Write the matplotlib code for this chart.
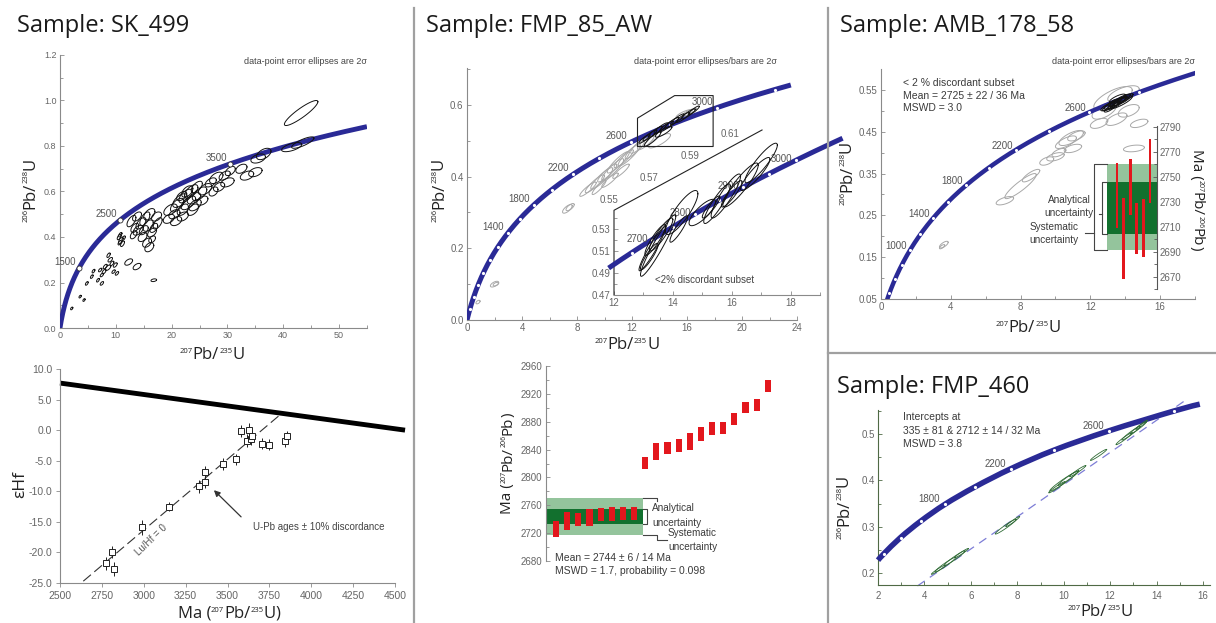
import numpy as np
import matplotlib
matplotlib.use('Agg')
import matplotlib.pyplot as plt
from matplotlib.ticker import MultipleLocator, FormatStrFormatter
from matplotlib.lines import Line2D
from matplotlib.path import Path
from matplotlib.patches import PathPatch

W, H = 1216, 623
plt.rcParams['font.family'] = ['Liberation Sans', 'DejaVu Sans']

# decay constants (per Ma)
L235 = 9.8485e-4
L238 = 1.55125e-4

# ------------------------------------------------------------------ data
TITLES = ['Sample: SK_499', 'Sample: FMP_85_AW', 'Sample: AMB_178_58', 'Sample: FMP_460']

# SK_499 concordia
SK_AGE_MAX = 4087
SK_LABEL_AGES = [1500, 2500, 3500]
# ellipses: (x, y, half-width x, half-height y, correlation)
SK_ELL = [
    (2.1, 0.086, 0.2, 0.006, 0.5), (3.6, 0.138, 0.2, 0.006, 0.5), (4.3, 0.123, 0.2, 0.006, 0.5),
    (4.8, 0.196, 0.25, 0.008, 0.6), (5.7, 0.226, 0.25, 0.008, 0.6), (6.0, 0.25, 0.25, 0.008, 0.6),
    (6.8, 0.21, 0.25, 0.008, 0.6), (7.2, 0.255, 0.3, 0.008, 0.6), (7.5, 0.233, 0.3, 0.008, 0.6),
    (7.5, 0.196, 0.3, 0.008, 0.6), (7.9, 0.248, 0.35, 0.01, 0.6), (8.1, 0.27, 0.35, 0.01, 0.6),
    (8.7, 0.32, 0.3, 0.01, 0.6), (9.0, 0.30, 0.4, 0.01, 0.6), (9.3, 0.284, 0.35, 0.01, 0.6),
    (9.6, 0.248, 0.3, 0.008, 0.6), (9.9, 0.277, 0.35, 0.01, 0.6), (10.2, 0.24, 0.3, 0.008, 0.6),
    (8.6, 0.265, 0.5, 0.012, 0.6),
    (10.6, 0.40, 0.35, 0.012, 0.6), (10.9, 0.385, 0.4, 0.015, 0.6), (11.2, 0.37, 0.35, 0.012, 0.6),
    (10.8, 0.41, 0.3, 0.01, 0.6), (11.4, 0.395, 0.3, 0.01, 0.6), (10.7, 0.375, 0.3, 0.01, 0.6),
    (12.3, 0.29, 0.7, 0.014, 0.5), (13.8, 0.27, 0.7, 0.014, 0.5), (16.8, 0.21, 0.5, 0.006, 0.3),
    (12.8, 0.47, 0.8, 0.025, 0.6), (13.8, 0.49, 0.8, 0.02, 0.5), (14.5, 0.46, 0.9, 0.025, 0.6),
    (15.2, 0.48, 0.9, 0.03, 0.6), (16.0, 0.50, 1.0, 0.025, 0.5), (17.3, 0.49, 0.9, 0.02, 0.4),
    (13.4, 0.44, 0.7, 0.02, 0.5), (15.0, 0.43, 0.8, 0.02, 0.5), (16.5, 0.42, 0.8, 0.02, 0.5),
    (14.8, 0.40, 0.8, 0.02, 0.4), (15.6, 0.375, 0.8, 0.02, 0.4), (16.0, 0.355, 0.8, 0.02, 0.4),
    (16.8, 0.44, 0.7, 0.02, 0.5), (17.5, 0.46, 0.8, 0.025, 0.6), (13.2, 0.41, 0.6, 0.018, 0.5),
    (14.0, 0.43, 0.9, 0.022, 0.5), (15.8, 0.45, 0.9, 0.025, 0.5), (16.5, 0.39, 0.6, 0.015, 0.4),
    (19.5, 0.48, 1.0, 0.02, 0.4), (19.8, 0.52, 1.2, 0.025, 0.5), (20.5, 0.50, 1.0, 0.02, 0.4),
    (21.0, 0.54, 1.2, 0.03, 0.6), (21.5, 0.56, 1.3, 0.03, 0.6), (22.0, 0.52, 1.0, 0.025, 0.5),
    (22.5, 0.58, 1.2, 0.03, 0.6), (23.0, 0.55, 1.3, 0.03, 0.6), (23.5, 0.60, 1.2, 0.03, 0.6),
    (24.0, 0.57, 1.2, 0.025, 0.5), (24.5, 0.62, 1.0, 0.025, 0.6), (25.0, 0.59, 1.3, 0.03, 0.6),
    (25.5, 0.56, 1.0, 0.02, 0.4), (26.0, 0.61, 1.2, 0.025, 0.5), (22.0, 0.49, 1.0, 0.02, 0.4),
    (20.8, 0.47, 1.0, 0.02, 0.4), (23.8, 0.52, 1.0, 0.025, 0.5), (22.8, 0.60, 1.0, 0.025, 0.5),
    (24.2, 0.54, 1.1, 0.025, 0.5), (21.8, 0.58, 0.9, 0.02, 0.5),
    (27.0, 0.64, 1.0, 0.02, 0.5), (28.0, 0.66, 1.2, 0.025, 0.5), (28.5, 0.62, 1.0, 0.02, 0.4),
    (29.5, 0.67, 1.0, 0.02, 0.5), (30.0, 0.64, 1.2, 0.02, 0.4), (30.5, 0.69, 0.9, 0.02, 0.5),
    (27.5, 0.60, 0.8, 0.02, 0.4),
    (33.5, 0.67, 1.2, 0.02, 0.4), (35.0, 0.685, 1.2, 0.02, 0.4), (32.5, 0.70, 1.0, 0.02, 0.4),
    (35.5, 0.745, 1.3, 0.02, 0.4), (36.5, 0.765, 1.3, 0.025, 0.5),
    (41.5, 0.795, 1.8, 0.02, 0.6), (43.5, 0.815, 2.0, 0.025, 0.8),
    (43.2, 0.945, 3.0, 0.055, 0.9),
]

# SK_499 Hf isotopes
HF_AGE = [2775, 2812, 2824, 2988, 3153, 3330, 3366, 3366, 3471, 3551,
          3579, 3614, 3630, 3638, 3648, 3704, 3750, 3843, 3857]
HF_EPS = [-21.8, -19.9, -22.7, -15.9, -12.5, -9.2, -8.5, -6.9, -5.5, -4.8,
          -0.1, -1.7, 0.1, -1.4, -1.0, -2.2, -2.4, -1.8, -1.0]
HF_ERR = [1.0, 1.0, 1.2, 1.2, 0.8, 1.0, 1.0, 1.0, 1.0, 0.9,
          1.0, 1.0, 1.1, 1.0, 1.0, 0.9, 0.9, 0.9, 0.9]
HF_DM_AGE = [2500, 4560]
HF_DM_EPS = [7.7, 0.0]
HF_LUHF_AGE = [2639, 3809]
HF_LUHF_EPS = [-24.7, 2.4]

# FMP_85_AW concordia
FMP85_AGE_MAX = 3250
FMP85_MARK_AGES = list(range(200, 3201, 200))
FMP85_LABEL_AGES = [1400, 1800, 2200, 2600, 3000]
FMP85_GRAY = [
    (0.8, 0.05, 0.15, 0.005, 0.5), (2.0, 0.10, 0.3, 0.008, 0.6), (2.1, 0.10, 0.2, 0.005, 0.5),
    (7.3, 0.31, 0.35, 0.012, 0.7), (7.5, 0.315, 0.3, 0.01, 0.7),
    (8.8, 0.365, 0.6, 0.02, 0.9), (9.3, 0.38, 0.7, 0.025, 0.9), (9.8, 0.395, 0.8, 0.03, 0.9),
    (10.2, 0.41, 0.7, 0.025, 0.9), (10.6, 0.42, 0.8, 0.03, 0.9), (11.0, 0.44, 0.8, 0.03, 0.9),
    (11.4, 0.45, 0.7, 0.025, 0.9), (11.8, 0.46, 0.8, 0.03, 0.9), (12.2, 0.475, 0.7, 0.025, 0.9),
    (12.6, 0.49, 0.7, 0.025, 0.9), (13.0, 0.495, 0.6, 0.02, 0.85), (9.6, 0.37, 0.5, 0.02, 0.9),
    (10.4, 0.39, 0.6, 0.02, 0.9), (11.2, 0.415, 0.6, 0.02, 0.9),
    (15.8, 0.575, 0.6, 0.012, 0.8), (16.2, 0.58, 0.5, 0.01, 0.8), (14.0, 0.50, 0.8, 0.02, 0.8),
]
FMP85_BLACK = [
    (12.9, 0.505, 0.4, 0.012, 0.9), (13.3, 0.515, 0.5, 0.015, 0.9), (13.7, 0.525, 0.5, 0.015, 0.9),
    (14.1, 0.535, 0.5, 0.015, 0.9), (14.5, 0.54, 0.5, 0.015, 0.9), (14.9, 0.55, 0.5, 0.015, 0.9),
    (15.3, 0.56, 0.5, 0.015, 0.9), (15.7, 0.565, 0.5, 0.014, 0.9), (16.1, 0.575, 0.5, 0.014, 0.9),
    (16.5, 0.585, 0.4, 0.012, 0.9), (13.5, 0.505, 0.6, 0.02, 0.9), (14.3, 0.525, 0.6, 0.015, 0.85),
]
FMP85_BOX_X = [12.4, 17.9, 17.9, 15.1, 12.4, 12.4]
FMP85_BOX_Y = [0.484, 0.484, 0.626, 0.626, 0.563, 0.484]
FMP85_INSET_AGE_RANGE = (2590, 3080)
FMP85_INSET_MARKS = list(range(2650, 3051, 50))
FMP85_INSET_LABELS = [2700, 2800, 2900, 3000]
FMP85_INSET_ELL = [
    (13.3, 0.512, 0.45, 0.02, 0.95), (13.4, 0.520, 0.35, 0.014, 0.9), (13.6, 0.525, 0.4, 0.015, 0.9),
    (13.5, 0.515, 0.6, 0.028, 0.95), (14.3, 0.545, 0.55, 0.02, 0.85), (14.2, 0.53, 0.3, 0.012, 0.9),
    (15.0, 0.545, 0.45, 0.012, 0.8), (15.5, 0.553, 0.45, 0.018, 0.9), (15.8, 0.56, 0.5, 0.02, 0.9),
    (16.0, 0.562, 0.35, 0.012, 0.9), (16.3, 0.57, 0.6, 0.02, 0.9), (16.8, 0.58, 0.5, 0.015, 0.9),
    (17.0, 0.59, 0.55, 0.018, 0.9), (15.3, 0.55, 0.3, 0.01, 0.9), (13.2, 0.505, 0.3, 0.012, 0.9),
]
FMP85_INSET_YTICKS = [0.47, 0.49, 0.51, 0.53]
FMP85_SLANT_TICKS = [0.55, 0.57, 0.59, 0.61]

# FMP_85_AW weighted mean 207Pb/206Pb ages
WM85_LO = [2714, 2725, 2730, 2730, 2738, 2738, 2739, 2739, 2812, 2825,
           2833, 2837, 2840, 2853, 2861, 2862, 2875, 2892, 2895, 2922]
WM85_HI = [2738, 2751, 2749, 2755, 2756, 2758, 2758, 2758, 2829, 2850,
           2851, 2855, 2864, 2872, 2880, 2880, 2893, 2909, 2913, 2940]
WM85_SYS = (2717, 2771)
WM85_ANA = (2733, 2755)

# AMB_178_58
AMB_AGE_MAX = 3000
AMB_MARK_AGES = list(range(200, 3001, 200))
AMB_LABEL_AGES = [1000, 1400, 1800, 2200, 2600]
AMB_BLACK = [
    (13.4, 0.518, 0.6, 0.014, 0.85), (13.6, 0.522, 0.5, 0.012, 0.85), (13.2, 0.512, 0.5, 0.012, 0.85),
    (13.8, 0.528, 0.5, 0.012, 0.85), (13.5, 0.515, 0.35, 0.009, 0.85), (13.0, 0.51, 0.4, 0.01, 0.8),
    (14.0, 0.53, 0.45, 0.011, 0.85), (13.7, 0.52, 0.7, 0.016, 0.85), (13.3, 0.52, 0.3, 0.008, 0.8),
    (13.9, 0.525, 0.3, 0.008, 0.8), (13.55, 0.53, 0.45, 0.01, 0.8), (13.1, 0.505, 0.3, 0.008, 0.8),
]
AMB_GRAY = [
    (13.3, 0.53, 1.1, 0.028, 0.7), (13.9, 0.54, 0.9, 0.02, 0.6), (12.8, 0.50, 0.7, 0.02, 0.6),
    (13.5, 0.48, 0.6, 0.015, 0.6), (14.2, 0.50, 0.6, 0.015, 0.5), (14.8, 0.47, 0.5, 0.01, 0.5),
    (14.5, 0.41, 0.6, 0.008, 0.3), (10.6, 0.425, 0.6, 0.015, 0.7), (10.9, 0.435, 0.7, 0.018, 0.7),
    (10.2, 0.40, 0.4, 0.01, 0.6), (11.2, 0.44, 0.5, 0.012, 0.6), (10.0, 0.39, 0.5, 0.01, 0.5),
    (11.0, 0.41, 0.5, 0.01, 0.5), (8.0, 0.32, 0.9, 0.03, 0.9), (8.6, 0.345, 0.5, 0.015, 0.8),
    (7.1, 0.285, 0.5, 0.01, 0.6), (3.6, 0.18, 0.25, 0.008, 0.7), (3.5, 0.175, 0.15, 0.005, 0.7),
    (12.5, 0.47, 0.5, 0.012, 0.5), (9.5, 0.38, 0.4, 0.01, 0.5),
]
AMB_LO = [2709, 2668, 2719, 2688, 2686, 2729]
AMB_HI = [2761, 2733, 2764, 2729, 2732, 2780]
AMB_SYS = (2691, 2760)
AMB_ANA = (2704, 2746)

# FMP_460 (curve points)
F460_CX = [2.0, 2.26, 2.97, 3.84, 4.89, 6.18, 7.73, 9.59, 11.94, 14.76, 15.86]
F460_CY = [0.2276, 0.2419, 0.2765, 0.3119, 0.3485, 0.3860, 0.4253, 0.4654, 0.5069, 0.5500, 0.5646]
F460_AGES = [None, 1200, 1400, 1600, 1800, 2000, 2200, 2400, 2600, 2800, None]
F460_LABEL_AGES = [1800, 2200, 2600]
F460_DISC_X = [3.7, 15.3]
F460_DISC_Y = [0.172, 0.575]
F460_ELL = [
    (4.6, 0.207, 0.3, 0.010, 0.97), (4.9, 0.218, 0.45, 0.016, 0.97), (5.3, 0.232, 0.45, 0.016, 0.97),
    (5.6, 0.243, 0.3, 0.01, 0.97), (7.5, 0.300, 0.45, 0.016, 0.97), (7.8, 0.311, 0.3, 0.011, 0.97),
    (9.7, 0.385, 0.35, 0.012, 0.97), (10.0, 0.398, 0.6, 0.021, 0.97), (10.2, 0.405, 0.45, 0.016, 0.97),
    (10.6, 0.420, 0.35, 0.012, 0.97), (11.5, 0.455, 0.35, 0.012, 0.97), (12.6, 0.49, 0.35, 0.013, 0.97),
    (12.9, 0.502, 0.4, 0.015, 0.97), (13.2, 0.513, 0.35, 0.013, 0.97), (13.35, 0.52, 0.25, 0.01, 0.97),
]

# ------------------------------------------------------------------ helpers
BLUE = '#2a2a96'
RED = '#e3171d'
LGREEN = '#94c49c'
DGREEN = '#12702e'
TXT = '#3a3a3a'
TICKC = '#666666'

fig = plt.figure(figsize=(W / 100, H / 100), dpi=100)
RENDERER = fig.canvas.get_renderer()


def axpx(l, t, r, b):
    return fig.add_axes([l / W, 1 - b / H, (r - l) / W, (b - t) / H])


def ftext(x, y, s, **kw):
    fig.text(x / W, 1 - y / H, s, **kw)


def fline(xs, ys, **kw):
    fig.add_artist(Line2D([x / W for x in xs], [1 - y / H for y in ys], **kw))


def rich(cx, cy, parts, rot=0, color='#222', family='Open Sans'):
    """Label made of pieces (text, size, rise_px), centred at pixel (cx, cy)."""
    ws = []
    for s, fs, _ in parts:
        t = fig.text(0, 0, s, fontsize=fs, fontfamily=family)
        ws.append(t.get_window_extent(RENDERER).width)
        t.remove()
    total = sum(ws)
    main = max(p[1] for p in parts)
    off = 0.36 * main * 100 / 72
    pos = -total / 2
    for (s, fs, rise), w in zip(parts, ws):
        if rot == 0:
            x, y = cx + pos, cy + off - rise
        elif rot == 90:
            x, y = cx + off - rise, cy - pos
        else:
            x, y = cx - off + rise, cy + pos
        fig.text(x / W, 1 - y / H, s, fontsize=fs, fontfamily=family, color=color,
                 rotation=rot, rotation_mode='anchor', ha='left', va='baseline')
        pos += w


def iso(top, bot, size=12, sup=5.5, pre='', post=''):
    rise = 0.714 * (size - sup) * 100 / 72
    parts = []
    if pre:
        parts.append((pre, size, 0))
    parts += [(top, sup, rise), ('Pb/', size, 0), (bot, sup, rise), ('U' if bot in ('235', '238') else 'Pb', size, 0)]
    if post:
        parts.append((post, size, 0))
    return parts


def style(ax, spine='#8a8a8a', size=7):
    for s in ('top', 'right'):
        ax.spines[s].set_visible(False)
    for s in ('left', 'bottom'):
        ax.spines[s].set_color(spine)
        ax.spines[s].set_linewidth(0.8)
    ax.tick_params(which='both', direction='in', color=spine, labelcolor=TICKC,
                   labelsize=size, width=0.6, pad=2.5)
    ax.tick_params(which='major', length=3)
    ax.tick_params(which='minor', length=2)
    ax.patch.set_visible(False)


def conc(t):
    t = np.asarray(t, dtype=float)
    return np.exp(L235 * t) - 1, np.exp(L238 * t) - 1


def ellipse(ax, e, **kw):
    cx, cy, sx, sy, r = e
    t = np.linspace(0, 2 * np.pi, 80)
    ax.plot(cx + sx * np.cos(t), cy + sy * (r * np.cos(t) + np.sqrt(1 - r * r) * np.sin(t)), **kw)


def age_label(ax, a, xy, dx=-3, dy=1, size=7):
    ax.annotate(str(a), xy=xy, xytext=(dx, dy), textcoords='offset pixels',
                ha='right', va='bottom', fontsize=size, color='#555')


def smooth_path(xs, ys):
    P = np.column_stack([xs, ys]).astype(float)
    n = len(P)
    verts, codes = [P[0]], [Path.MOVETO]
    for i in range(n - 1):
        p0 = P[i - 1] if i > 0 else P[i]
        p1, p2 = P[i], P[i + 1]
        p3 = P[i + 2] if i + 2 < n else P[i + 1]
        verts += [p1 + (p2 - p0) / 6, p2 - (p3 - p1) / 6, p2]
        codes += [Path.CURVE4] * 3
    return Path(verts, codes)


# ------------------------------------------------------------------ titles & separators
for (x, y), s in zip([(17, 32), (426, 32), (840, 32), (837, 393)], TITLES):
    ftext(x, y, s, fontfamily='Open Sans', fontsize=17, color='#1a1a1a', va='baseline', ha='left')

fline([414, 414], [8, 623], color='#a0a0a0', lw=1.6)
fline([828, 828], [8, 623], color='#a0a0a0', lw=1.6)
fline([828, 1216], [353, 353], color='#a0a0a0', lw=1.6)

# ------------------------------------------------------------------ SK_499 concordia
axA = axpx(60, 55, 367, 328)
style(axA, size=6.5)
axA.set_xlim(0, 55)
axA.set_ylim(0, 1.2)
axA.xaxis.set_major_locator(MultipleLocator(10))
axA.xaxis.set_minor_locator(MultipleLocator(5))
axA.yaxis.set_major_locator(MultipleLocator(0.2))
axA.yaxis.set_minor_locator(MultipleLocator(0.1))
axA.yaxis.set_major_formatter(FormatStrFormatter('%.1f'))
cx, cy = conc(np.linspace(0, SK_AGE_MAX, 400))
axA.plot(cx, cy, color=BLUE, lw=3.5, solid_capstyle='butt', zorder=3)
for e in SK_ELL:
    ellipse(axA, e, color='#111', lw=0.7, zorder=4)
mx, my = conc(SK_LABEL_AGES)
axA.plot(mx, my, 'o', ms=3.6, mfc='white', mec='#333', mew=0.6, zorder=5)
for a, x, y in zip(SK_LABEL_AGES, mx, my):
    age_label(axA, a, (x, y))
ftext(367, 62, 'data-point error ellipses are 2σ', ha='right', va='center', fontsize=6.5, color='#444')
rich(28, 190, iso('206', '238'), rot=90)
rich(212, 353, iso('207', '235'))

# ------------------------------------------------------------------ SK_499 Hf
axB = axpx(60, 369, 395, 583)
style(axB, size=7.5)
axB.set_xlim(2500, 4500)
axB.set_ylim(-25, 10)
axB.xaxis.set_major_locator(MultipleLocator(250))
axB.yaxis.set_major_locator(MultipleLocator(5))
axB.yaxis.set_major_formatter(FormatStrFormatter('%.1f'))
axB.tick_params(which='major', direction='out', length=3)
axB.plot(HF_DM_AGE, HF_DM_EPS, color='black', lw=3.5, clip_on=False, solid_capstyle='butt')
axB.plot(HF_LUHF_AGE, HF_LUHF_EPS, color='#333', lw=0.8, dashes=(9, 4))
axB.errorbar(HF_AGE, HF_EPS, yerr=HF_ERR, fmt='s', ms=4, mfc='white', mec='#222', mew=0.7,
             ecolor='#222', elinewidth=0.7, capsize=0, zorder=4)
axB.text(3047, -17.9, 'Lu/Hf = 0', rotation=44, ha='center', va='center', fontsize=7, color='#555')
axB.annotate('', xy=(3407, -9.5), xytext=(3593, -14.5),
             arrowprops=dict(arrowstyle='-|>', color='#333', lw=0.9, mutation_scale=9))
axB.text(3652, -15.8, 'U-Pb ages ± 10% discordance', ha='left', va='center', fontsize=7, color='#444')
ftext(20, 484, 'εHf', rotation=90, ha='center', va='center', fontsize=12.5, color='#222', fontfamily='Open Sans')
rich(229, 612, iso('207', '235', pre='Ma (', post=')'))

# ------------------------------------------------------------------ FMP_85_AW concordia
axC = axpx(467, 68, 797, 320)
style(axC, size=7)
axC.set_xlim(0, 24)
axC.set_ylim(0, 0.703)
axC.xaxis.set_major_locator(MultipleLocator(4))
axC.xaxis.set_minor_locator(MultipleLocator(2))
axC.yaxis.set_major_locator(MultipleLocator(0.2))
axC.yaxis.set_minor_locator(MultipleLocator(0.1))
axC.yaxis.set_major_formatter(FormatStrFormatter('%.1f'))
cx, cy = conc(np.linspace(0, FMP85_AGE_MAX, 400))
axC.plot(cx, cy, color=BLUE, lw=3.6, solid_capstyle='butt', zorder=3)
mx, my = conc(FMP85_MARK_AGES)
axC.plot(mx, my, 'o', ms=2.3, mfc='white', mec='none', zorder=4)
for e in FMP85_GRAY:
    ellipse(axC, e, color='#a8a8a8', lw=0.7, zorder=2)
for e in FMP85_BLACK:
    ellipse(axC, e, color='#111', lw=0.7, zorder=5)
lx, ly = conc(FMP85_LABEL_AGES)
for a, x, y in zip(FMP85_LABEL_AGES, lx, ly):
    age_label(axC, a, (x, y), dx=-4)
axC.plot(FMP85_BOX_X, FMP85_BOX_Y, color='#222', lw=0.8, zorder=6)
ftext(777, 62, 'data-point error ellipses/bars are 2σ', ha='right', va='center', fontsize=6.5, color='#444')
rich(437, 190, iso('206', '238'), rot=90)
rich(627, 343, iso('207', '235'))

# inset
axD = axpx(614, 130, 820, 295)
style(axD, size=7)
axD.spines['left'].set_visible(False)
axD.set_xlim(12, 19)
axD.set_ylim(0.47, 0.62)
axD.set_xticks([12, 14, 16, 18])
axD.xaxis.set_minor_locator(MultipleLocator(1))
axD.set_yticks(FMP85_INSET_YTICKS)
axD.set_yticks([0.48, 0.50, 0.52, 0.54], minor=True)
axD.yaxis.set_major_formatter(FormatStrFormatter('%.2f'))
axD.plot([12, 12, 17.03], [0.47, 0.547, 0.62], color='#222', lw=0.8, clip_on=False)
for v in FMP85_SLANT_TICKS:
    xv = 12 + (v - 0.547) / (0.62 - 0.547) * (17.03 - 12)
    axD.annotate(f'{v:.2f}', xy=(xv, v), xytext=(-2, 2), textcoords='offset pixels',
                 ha='right', va='bottom', fontsize=7, color=TICKC)
cx, cy = conc(np.linspace(*FMP85_INSET_AGE_RANGE, 200))
axD.plot(cx, cy, color=BLUE, lw=3.6, solid_capstyle='butt', zorder=3, clip_on=False)
mx, my = conc(FMP85_INSET_MARKS)
axD.plot(mx, my, 'o', ms=2.3, mfc='white', mec='none', zorder=4)
for e in FMP85_INSET_ELL:
    ellipse(axD, e, color='#111', lw=0.7, zorder=5)
lx, ly = conc(FMP85_INSET_LABELS)
for a, x, y in zip(FMP85_INSET_LABELS, lx, ly):
    age_label(axD, a, (x, y), dx=-4, dy=-4)
axD.text(13.4, 0.4835, '<2% discordant subset', ha='left', va='center', fontsize=7, color='#444')

# weighted mean
axE = axpx(546, 366, 780, 561)
style(axE, size=7)
axE.spines['bottom'].set_visible(False)
axE.tick_params(axis='x', which='both', bottom=False, labelbottom=False)
axE.set_xlim(-0.9, 20.1)
axE.set_ylim(2680, 2960)
axE.yaxis.set_major_locator(MultipleLocator(40))
axE.yaxis.set_minor_locator(MultipleLocator(20))
axE.fill_between([-0.9, 7.81], WM85_SYS[0], WM85_SYS[1], color=LGREEN, lw=0, zorder=1)
axE.fill_between([-0.9, 7.81], WM85_ANA[0], WM85_ANA[1], color=DGREEN, lw=0, zorder=2)
idx = np.arange(len(WM85_LO))
axE.bar(idx, np.array(WM85_HI) - np.array(WM85_LO), bottom=WM85_LO, width=0.55, color=RED, zorder=3)
bk = dict(color='#444', lw=0.8, clip_on=False)
axE.plot([7.81, 8.17, 8.17, 7.81], [WM85_ANA[1], WM85_ANA[1], WM85_ANA[0], WM85_ANA[0]], **bk)
axE.plot([7.81, 9.06, 9.06], [WM85_SYS[1], WM85_SYS[1], WM85_SYS[1] - 5], **bk)
axE.plot([7.81, 9.06, 9.06, 9.96], [WM85_SYS[0], WM85_SYS[0], WM85_SYS[0] - 7, WM85_SYS[0] - 7], **bk)
ftext(652, 508, 'Analytical', ha='left', va='center', fontsize=7.2, color=TXT)
ftext(652, 523, 'uncertainty', ha='left', va='center', fontsize=7.2, color=TXT)
ftext(668, 533, 'Systematic', ha='left', va='center', fontsize=7.2, color=TXT)
ftext(668, 547, 'uncertainty', ha='left', va='center', fontsize=7.2, color=TXT)
ftext(555, 558, 'Mean = 2744 ± 6 / 14 Ma', ha='left', va='center', fontsize=7.5, color=TXT)
ftext(555, 571, 'MSWD = 1.7, probability = 0.098', ha='left', va='center', fontsize=7.5, color=TXT)
rich(506, 463, iso('207', '206', size=11, sup=5, pre='Ma (', post=')'), rot=90)

# ------------------------------------------------------------------ AMB_178_58
axF = axpx(881, 69, 1195, 299)
style(axF, size=7)
axF.set_xlim(0, 18)
axF.set_ylim(0.05, 0.60)
axF.xaxis.set_major_locator(MultipleLocator(4))
axF.xaxis.set_minor_locator(MultipleLocator(2))
axF.set_yticks([0.05, 0.15, 0.25, 0.35, 0.45, 0.55])
axF.set_yticks([0.10, 0.20, 0.30, 0.40, 0.50], minor=True)
axF.yaxis.set_major_formatter(FormatStrFormatter('%.2f'))
cx, cy = conc(np.linspace(0, AMB_AGE_MAX, 400))
axF.plot(cx, cy, color=BLUE, lw=3.2, solid_capstyle='butt', zorder=3)
mx, my = conc(AMB_MARK_AGES)
axF.plot(mx, my, 'o', ms=2.2, mfc='white', mec='none', zorder=4)
for e in AMB_GRAY:
    ellipse(axF, e, color='#a8a8a8', lw=0.7, zorder=2)
for e in AMB_BLACK:
    ellipse(axF, e, color='#111', lw=0.7, zorder=5)
lx, ly = conc(AMB_LABEL_AGES)
for a, x, y in zip(AMB_LABEL_AGES, lx, ly):
    age_label(axF, a, (x, y), dx=-3, dy=-1)
ftext(1195, 62, 'data-point error ellipses/bars are 2σ', ha='right', va='center', fontsize=6.5, color='#444')
ftext(903, 83, '< 2 % discordant subset', ha='left', va='center', fontsize=7.5, color=TXT)
ftext(903, 96, 'Mean = 2725 ± 22 / 36 Ma', ha='left', va='center', fontsize=7.5, color=TXT)
ftext(903, 108, 'MSWD = 3.0', ha='left', va='center', fontsize=7.5, color=TXT)
rich(845, 173, iso('206', '238'), rot=90)
rich(1028, 326, iso('207', '235'))

# AMB weighted-mean inset
axG = axpx(1085, 126, 1157, 289)
axG.patch.set_visible(False)
for s in ('top', 'left', 'bottom'):
    axG.spines[s].set_visible(False)
axG.spines['right'].set_color('#555')
axG.spines['right'].set_linewidth(0.8)
axG.yaxis.tick_right()
axG.tick_params(axis='x', which='both', bottom=False, labelbottom=False)
axG.tick_params(axis='y', which='both', direction='in', color='#555', labelcolor=TICKC,
                labelsize=7, width=0.6, pad=2)
axG.tick_params(axis='y', which='major', length=3)
axG.tick_params(axis='y', which='minor', length=2)
axG.set_xlim(-4.85, 6.06)
axG.set_ylim(2660, 2790.4)
axG.yaxis.set_minor_locator(MultipleLocator(10))
axG.set_yticks(np.arange(2670, 2791, 20))
axG.fill_between([-1.52, 6.06], AMB_SYS[0], AMB_SYS[1], color=LGREEN, lw=0, zorder=1)
axG.fill_between([-1.52, 6.06], AMB_ANA[0], AMB_ANA[1], color=DGREEN, lw=0, zorder=2)
idx = np.arange(len(AMB_LO))
axG.bar(idx, np.array(AMB_HI) - np.array(AMB_LO), bottom=AMB_LO, width=0.45, color=RED, zorder=3)
bk = dict(color='#444', lw=0.8, clip_on=False)
axG.plot([-1.52, -3.48, -3.48, -1.52], [AMB_SYS[1], AMB_SYS[1], AMB_SYS[0], AMB_SYS[0]], **bk)
axG.plot([-3.48, -4.85], [2705, 2705], **bk)
axG.plot([-1.52, -2.27, -2.27, -1.52], [AMB_ANA[1], AMB_ANA[1], AMB_ANA[0], AMB_ANA[0]], **bk)
axG.plot([-2.27, -2.73], [2720, 2720], **bk)
ftext(1069, 200, 'Analytical', ha='center', va='center', fontsize=7.2, color=TXT)
ftext(1069, 213, 'uncertainty', ha='center', va='center', fontsize=7.2, color=TXT)
ftext(1054, 227, 'Systematic', ha='center', va='center', fontsize=7.2, color=TXT)
ftext(1054, 240, 'uncertainty', ha='center', va='center', fontsize=7.2, color=TXT)
rich(1198, 200, iso('207', '206', size=11, sup=5, pre='Ma (', post=')'), rot=-90)

# ------------------------------------------------------------------ FMP_460
axH = axpx(878, 410, 1210, 585)
style(axH, spine='#4f6a45', size=7)
axH.tick_params(axis='x', pad=4)
axH.set_xlim(2, 16.3)
axH.set_ylim(0.174, 0.552)
axH.xaxis.set_major_locator(MultipleLocator(2))
axH.xaxis.set_minor_locator(MultipleLocator(1))
axH.yaxis.set_major_locator(MultipleLocator(0.1))
axH.yaxis.set_minor_locator(MultipleLocator(0.05))
axH.yaxis.set_major_formatter(FormatStrFormatter('%.1f'))
axH.plot(F460_DISC_X, F460_DISC_Y, color='#7d7dd6', lw=0.9, dashes=(7, 5), clip_on=False, zorder=2)
axH.add_patch(PathPatch(smooth_path(F460_CX, F460_CY), fill=False, edgecolor=BLUE, lw=4,
                        capstyle='butt', zorder=3, clip_on=False))
mk = [i for i, a in enumerate(F460_AGES) if a is not None]
axH.plot([F460_CX[i] for i in mk], [F460_CY[i] for i in mk], 'o', ms=2.3, mfc='white', mec='none', zorder=4)
for i in mk:
    if F460_AGES[i] in F460_LABEL_AGES:
        age_label(axH, F460_AGES[i], (F460_CX[i], F460_CY[i]), dx=-5, dy=0)
for e in F460_ELL:
    ellipse(axH, e, color='#2f6b35', lw=0.6, zorder=5)
ftext(903, 417, 'Intercepts at', ha='left', va='center', fontsize=7.5, color=TXT)
ftext(903, 431, '335 ± 81 & 2712 ± 14 / 32 Ma', ha='left', va='center', fontsize=7.5, color=TXT)
ftext(903, 444, 'MSWD = 3.8', ha='left', va='center', fontsize=7.5, color=TXT)
rich(842, 507, iso('206', '238'), rot=90)
rich(1100, 610, iso('207', '235'))

fig.savefig('out.png', dpi=100)
